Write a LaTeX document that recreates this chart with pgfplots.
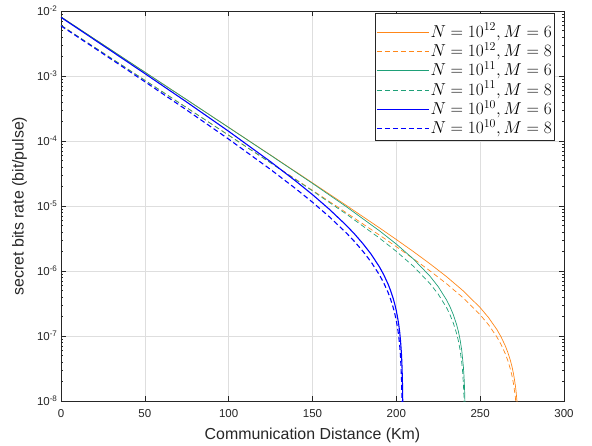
\documentclass[border=0pt]{standalone}
\usepackage{fontspec}
\setmainfont{Liberation Sans}
\usepackage{pgfplots}
\pgfplotsset{compat=1.18}
\definecolor{cOr}{RGB}{255,135,25}
\definecolor{cGr}{RGB}{30,160,120}
\definecolor{cBl}{RGB}{0,0,255}
\definecolor{axc}{RGB}{38,38,38}
\begin{document}
\begin{tikzpicture}
\useasboundingbox (-61pt,-44pt) rectangle (531pt,401pt);
\begin{axis}[
 at={(0pt,0pt)}, anchor=south west,
 width=503pt, height=390pt, scale only axis,
 ymode=log, xmin=0, xmax=300, ymin=1e-8, ymax=1e-2,
 xtick={0,50,100,150,200,250,300},
 xticklabels={0,50,100,150,200,250,300},
 ytick={1e-8,1e-7,1e-6,1e-5,1e-4,1e-3,1e-2},
 yticklabels={10\textsuperscript{-8},10\textsuperscript{-7},10\textsuperscript{-6},10\textsuperscript{-5},10\textsuperscript{-4},10\textsuperscript{-3},10\textsuperscript{-2}},
 minor ytick={2e-8,3e-8,4e-8,5e-8,6e-8,7e-8,8e-8,9e-8,2e-7,3e-7,4e-7,5e-7,6e-7,7e-7,8e-7,9e-7,2e-6,3e-6,4e-6,5e-6,6e-6,7e-6,8e-6,9e-6,2e-5,3e-5,4e-5,5e-5,6e-5,7e-5,8e-5,9e-5,2e-4,3e-4,4e-4,5e-4,6e-4,7e-4,8e-4,9e-4,2e-3,3e-3,4e-3,5e-3,6e-3,7e-3,8e-3,9e-3},
 xmajorgrids, ymajorgrids, yminorgrids=false,
 major grid style={color=black!13, line width=0.5pt},
 axis line style={axc, line width=0.6pt},
 every tick/.style={axc, line width=0.5pt},
 major tick length=5pt, minor tick length=2.5pt,
 tick align=inside,
 ticklabel style={font=\fontsize{11.5}{13}\selectfont, text=axc},
 xticklabel style={yshift=-5pt},
 xlabel={Communication Distance (Km)},
 ylabel={secret bits rate (bit/pulse)},
 label style={font=\fontsize{15.9}{18}\selectfont, text=axc},
 xlabel style={at={(axis description cs:0.5,-0.0877)}, anchor=center},
 ylabel style={at={(axis description cs:-0.0825,0.5)}, anchor=center},
 legend cell align=left,
 legend style={at={(rel axis cs:0.980,0.994)}, anchor=north east, draw=axc, fill=white,
   font=\fontsize{16.5}{16.5}\selectfont, inner xsep=1pt, inner ysep=5.3pt, row sep=0pt,
   column sep=0pt, cells={anchor=base west},
   nodes={inner xsep=1pt, inner ysep=1pt, text height=17.3pt, text depth=0pt}},
 legend image code/.code={\draw[#1] (0pt,5pt) -- (52pt,5pt);},
]
\addplot[color=cOr, line width=0.7pt] coordinates {
(0,8.13e-3) (25,3.055e-3) (50,1.148e-3) (75,4.315e-4) (100,1.622e-4) (125,6.08e-5) (150,2.27e-5) (170,1.028e-5) (190,4.60e-6) (200,3.05e-6) (210,2.005e-6) (220,1.295e-6) (230,8.17e-7) (240,4.92e-7) (250,2.735e-7) (255,1.92e-7) (260,1.254e-7) (262.5,9.66e-8) (265,7.05e-8) (266.5,5.6e-8) (268,4.23e-8) (269,3.37e-8) (270,2.53e-8) (271,1.73e-8) (271.5,1.34e-8) (272,9.57e-9) (272.3,7.3e-9)
};
\addlegendentry{$N=10^{12}, M=6$}
\addplot[color=cOr, line width=0.7pt, dash pattern=on 5pt off 3pt] coordinates {
(0,6.03e-3) (25,2.28e-3) (50,8.61e-4) (75,3.25e-4) (100,1.23e-4) (125,4.64e-5) (150,1.743e-5) (170,7.93e-6) (190,3.56e-6) (200,2.366e-6) (210,1.556e-6) (220,1.008e-6) (230,6.36e-7) (240,3.84e-7) (250,2.12e-7) (255,1.489e-7) (260,9.64e-8) (262.5,7.38e-8) (265,5.33e-8) (266.5,4.18e-8) (268,3.11e-8) (269,2.43e-8) (270,1.77e-8) (271,1.135e-8) (271.5,8.3e-9)
};
\addlegendentry{$N=10^{12}, M=8$}
\addplot[color=cGr, line width=0.7pt] coordinates {
(0,8.13e-3) (25,3.055e-3) (50,1.148e-3) (75,4.315e-4) (100,1.615e-4) (125,6.03e-5) (150,2.228e-5) (170,9.83e-6) (190,4.145e-6) (200,2.594e-6) (210,1.545e-6) (220,8.37e-7) (225,5.74e-7) (230,3.57e-7) (232,2.82e-7) (234,2.125e-7) (236,1.48e-7) (237,1.178e-7) (238,8.85e-8) (239,6.04e-8) (240,3.35e-8) (240.4,2.3e-8) (240.7,1.53e-8) (240.95,8.87e-9) (241.1,5.05e-9)
};
\addlegendentry{$N=10^{11}, M=6$}
\addplot[color=cGr, line width=0.7pt, dash pattern=on 5pt off 3pt] coordinates {
(0,6.03e-3) (25,2.28e-3) (50,8.61e-4) (75,3.25e-4) (100,1.225e-4) (125,4.60e-5) (150,1.708e-5) (170,7.57e-6) (190,3.20e-6) (200,2.005e-6) (210,1.194e-6) (220,6.44e-7) (225,4.40e-7) (230,2.72e-7) (232,2.13e-7) (234,1.58e-7) (236,1.08e-7) (237,8.43e-8) (238,6.14e-8) (239,3.94e-8) (239.5,2.88e-8) (240,1.83e-8) (240.3,1.22e-8) (240.6,6.0e-9)
};
\addlegendentry{$N=10^{11}, M=8$}
\addplot[color=cBl, line width=1.1pt] coordinates {
(0,7.98e-3) (25,2.96e-3) (50,1.091e-3) (75,3.97e-4) (100,1.41e-4) (125,4.80e-5) (140,2.42e-5) (150,1.496e-5) (160,8.93e-6) (170,5.09e-6) (175,3.73e-6) (180,2.65e-6) (185,1.81e-6) (190,1.148e-6) (192.5,8.75e-7) (195,6.36e-7) (196.5,5.06e-7) (198,3.88e-7) (199,3.14e-7) (200,2.44e-7) (201,1.77e-7) (201.5,1.46e-7) (202,1.15e-7) (202.5,8.49e-8) (203,5.58e-8) (203.2,4.44e-8) (203.4,3.3e-8) (203.6,2.19e-8) (203.75,1.36e-8) (203.85,8.2e-9)
};
\addlegendentry{$N=10^{10}, M=6$}
\addplot[color=cBl, line width=1.1pt, dash pattern=on 5pt off 3pt] coordinates {
(0,5.91e-3) (25,2.21e-3) (50,8.18e-4) (75,2.99e-4) (100,1.069e-4) (125,3.65e-5) (140,1.846e-5) (150,1.143e-5) (160,6.84e-6) (170,3.89e-6) (175,2.85e-6) (180,2.02e-6) (185,1.373e-6) (190,8.65e-7) (192.5,6.56e-7) (195,4.73e-7) (196.5,3.73e-7) (198,2.82e-7) (199,2.25e-7) (200,1.71e-7) (201,1.20e-7) (201.5,9.55e-8) (202,7.16e-8) (202.5,4.85e-8) (203.1,2.17e-8) (203.3,1.29e-8) (203.45,6.4e-9)
};
\addlegendentry{$N=10^{10}, M=8$}
\end{axis}
\end{tikzpicture}
\end{document}
